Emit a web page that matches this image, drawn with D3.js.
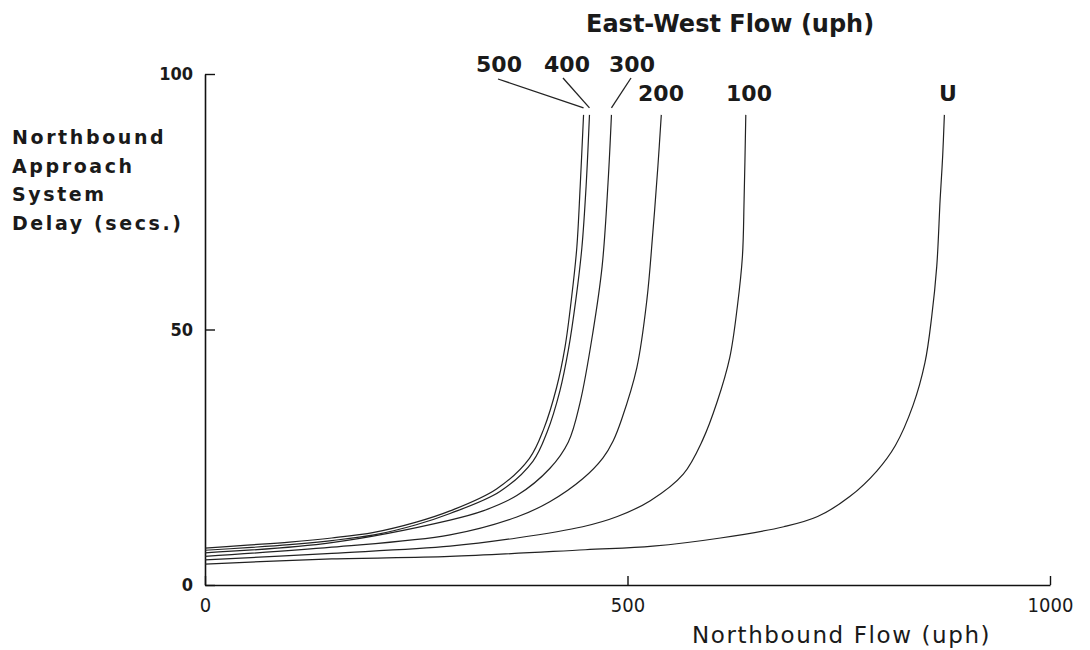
<!DOCTYPE html>
<html>
<head>
<meta charset="utf-8">
<script src="https://cdn.jsdelivr.net/npm/d3@7"></script>
<style>
  body { margin: 0; background: #fff; }
  .lbl { font-family: "DejaVu Sans", sans-serif; font-weight: bold; fill: #1a1a1a; }
</style>
</head>
<body>
<div class="chart"></div>
<script>
/** East-West flow levels, one curve each */
let ewFlows = ["U", "100", "200", "300", "400", "500"];

/** northbound flow (uph) and delay (secs.) */
let flowU = [0, 150, 290, 450, 530, 610, 685, 725, 763, 795, 817, 838, 852, 860, 866, 870, 873, 875];
let delayU = [4.1, 5.1, 5.6, 6.9, 7.6, 9.2, 11.4, 13.4, 17.3, 22.3, 27.3, 35.2, 43.5, 52.5, 62.4, 75.5, 84, 92];

let flow100 = [0, 150, 290, 369, 447, 488, 527, 566, 589, 606, 621, 630, 636, 638, 640];
let delay100 = [4.9, 6.2, 7.6, 9.2, 11.4, 13.4, 16.5, 21.7, 28.4, 35.8, 44.5, 54.5, 64.3, 75.5, 92];

let flow200 = [0, 150, 290, 369, 408, 447, 471, 483, 493, 511, 523, 530, 536, 540];
let delay200 = [5.6, 7.4, 9.8, 13.3, 16.3, 20.8, 24.9, 28.2, 32.4, 42.5, 55.9, 69, 82, 92];

let flow300 = [0, 150, 290, 329, 369, 408, 430, 444, 459, 470, 477, 481];
let delay300 = [6.3, 8.3, 12.7, 14.5, 17.5, 22.8, 28, 35.8, 49.4, 62.4, 78.8, 92];

let flow400 = [0, 50, 100, 150, 200, 250, 290, 349, 388, 405, 420, 430, 439, 446, 451, 455];
let delay400 = [6.8, 7.3, 7.9, 8.7, 9.8, 11.8, 14, 18.3, 24.2, 30, 38, 46, 56, 66, 78, 92];

let flow500 = [0, 50, 100, 150, 200, 250, 290, 345, 384, 401, 416, 426, 434, 440, 444, 448];
let delay500 = [7.2, 7.8, 8.4, 9.2, 10.3, 12.3, 14.5, 18.8, 24.8, 30.6, 38.6, 46.5, 56.5, 66, 78, 92];

let xTicks = [0, 500, 1000];
let yTicks = [0, 50, 100];
let yTitle = ["Northbound", "Approach", "System", "Delay (secs.)"];

let series = [
    { name: "U", flow: flowU, delay: delayU },
    { name: "100", flow: flow100, delay: delay100 },
    { name: "200", flow: flow200, delay: delay200 },
    { name: "300", flow: flow300, delay: delay300 },
    { name: "400", flow: flow400, delay: delay400 },
    { name: "500", flow: flow500, delay: delay500 }
];

/** where the curve labels sit (px); leader = start point of the pointer line */
let labelLayout = {
    "U":   { x: 948, y: 101 },
    "100": { x: 749, y: 101 },
    "200": { x: 661, y: 101 },
    "300": { x: 632, y: 72, leader: [631, 78] },
    "400": { x: 567, y: 72, leader: [563, 78] },
    "500": { x: 499, y: 72, leader: [498, 79] }
};

/** canvas */
let width = 1090, height = 650;
let svg = d3.select('.chart').append('svg')
    .attr('width', width)
    .attr('height', height);

/** scales and axes */
let xScale = d3.scaleLinear().domain([0, 1000]).range([205, 1050]);
let yScale = d3.scaleLinear().domain([0, 100]).range([585, 74]);

let xAxis = d3.axisBottom(xScale).tickValues(xTicks).tickFormat(d3.format('d'))
    .tickSize(-9).tickSizeOuter(0).tickPadding(13);
let yAxis = d3.axisLeft(yScale).tickValues(yTicks).tickFormat(d3.format('d'))
    .tickSize(-10).tickSizeOuter(0).tickPadding(12);

let gx = svg.append('g')
    .attr('transform', 'translate(0,' + yScale(0) + ')')
    .call(xAxis);
gx.selectAll('text')
    .style('font-family', '"DejaVu Sans Condensed", "DejaVu Sans", sans-serif')
    .style('font-size', '20px')
    .style('fill', '#1a1a1a');

let gy = svg.append('g')
    .attr('transform', 'translate(' + xScale(0) + ',0)')
    .call(yAxis);
gy.selectAll('text')
    .style('font-family', '"DejaVu Sans Condensed", "DejaVu Sans", sans-serif')
    .style('font-weight', 'bold')
    .style('font-size', '18px')
    .style('fill', '#1a1a1a');

svg.selectAll('.domain').attr('stroke', '#111').attr('stroke-width', 1.6);
svg.selectAll('.tick line').attr('stroke', '#111').attr('stroke-width', 1.4);

/** the delay curves */
let line = d3.line()
    .x(function (d) { return xScale(d[0]); })
    .y(function (d) { return yScale(d[1]); })
    .curve(d3.curveCatmullRom.alpha(0.5));

svg.selectAll('.curve')
    .data(series)
    .enter()
    .append('path')
    .attr('class', 'curve')
    .attr('d', function (s) { return line(d3.zip(s.flow, s.delay)); })
    .attr('fill', 'none')
    .attr('stroke', '#222')
    .attr('stroke-width', 1.2);

/** curve labels */
svg.selectAll('.curve-label')
    .data(series)
    .enter()
    .append('text')
    .attr('class', 'lbl curve-label')
    .attr('x', function (s) { return labelLayout[s.name].x; })
    .attr('y', function (s) { return labelLayout[s.name].y; })
    .attr('text-anchor', 'middle')
    .style('font-size', '22px')
    .text(function (s) { return s.name; });

/** pointer lines for the crowded labels */
svg.selectAll('.leader')
    .data(series.filter(function (s) { return labelLayout[s.name].leader; }))
    .enter()
    .append('line')
    .attr('class', 'leader')
    .attr('x1', function (s) { return labelLayout[s.name].leader[0]; })
    .attr('y1', function (s) { return labelLayout[s.name].leader[1]; })
    .attr('x2', function (s) { return xScale(s.flow[s.flow.length - 1]); })
    .attr('y2', function (s) { return yScale(s.delay[s.delay.length - 1]) - 7; })
    .attr('stroke', '#222')
    .attr('stroke-width', 1.3);

/** titles */
svg.append('text')
    .attr('class', 'lbl')
    .attr('x', 586)
    .attr('y', 32)
    .style('font-size', '24px')
    .text('East-West Flow (uph)');

svg.append('text')
    .attr('class', 'lbl')
    .attr('x', 692)
    .attr('y', 643)
    .style('font-size', '23px')
    .style('font-weight', 'normal')
    .style('letter-spacing', '1.6px')
    .text('Northbound Flow (uph)');

svg.selectAll('.ytitle')
    .data(yTitle)
    .enter()
    .append('text')
    .attr('class', 'lbl ytitle')
    .attr('x', 12)
    .attr('y', function (d, i) { return 144 + i * 28.5; })
    .style('font-size', '19px')
    .style('letter-spacing', '2.6px')
    .text(function (d) { return d; });
</script>
</body>
</html>
